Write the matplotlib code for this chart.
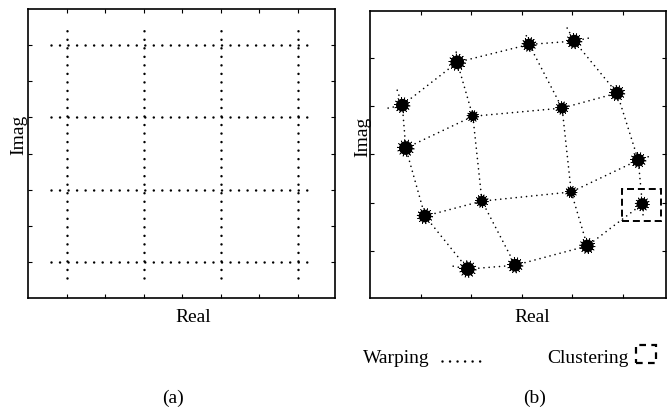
import numpy as np
import matplotlib.pyplot as plt
from matplotlib.patches import Rectangle
from matplotlib.lines import Line2D

plt.rcParams["font.family"] = ["Liberation Serif", "DejaVu Serif"]

# (a) ideal 16-point grid
grid_levels = [-3, -1, 1, 3]
h_extent = [-3.4, 3.4]    # where the dotted horizontal lines stop
v_extent = [-3.45, 3.45]  # where the dotted vertical lines stop
ticks_a = [-3, -2, -1, 0, 1, 2, 3]

# (b) cluster centres after warping, [row][col], top row first
clu_x = [
    [-2.37, -1.28, 0.145, 1.04],
    [-2.30, -0.97, 0.80, 1.89],
    [-1.92, -0.79, 0.98, 2.31],
    [-1.07, -0.13, 1.30, 2.39],
]
clu_y = [
    [1.02, 1.91, 2.28, 2.35],
    [0.13, 0.79, 0.96, 1.27],
    [-1.28, -0.97, -0.78, -0.12],
    [-2.38, -2.30, -1.90, -1.03],
]
# loose ends of the warped lines
row_left = [(-2.65, 0.96), (-2.40, 0.10), (-2.02, -1.30), (-1.36, -2.32)]
row_right = [(1.41, 2.43), (1.98, 1.30), (2.59, -0.02), (2.45, -0.98)]
col_top = [(-2.47, 1.33), (-1.30, 2.12), (0.09, 2.46), (0.90, 2.62)]
col_bottom = [(-1.03, -2.50), (-0.11, -2.42), (1.30, -2.03), (2.41, -1.34)]
# dashed box around one cluster: x0, y0, width, height
cluster_box = (1.99, -1.38, 0.77, 0.66)
ticks_bx = [-2, -1, 0, 1, 2]
ticks_by = [-2, -1, 0, 1, 2]

# blob diameters in pixels
blob_px = [
    [12, 13, 11, 12],
    [13, 9, 10, 12],
    [12, 10, 9, 12],
    [13, 12, 12, 11],
]


def frame(ax):
    for s in ax.spines.values():
        s.set_linewidth(1.2)
    ax.tick_params(direction="in", length=3, width=0.8, top=True, right=True,
                   labelbottom=False, labelleft=False)


fig = plt.figure(figsize=(6.71, 4.10), dpi=100)

# ---- panel (a)
ax = fig.add_axes([28 / 671, 111 / 410, 307 / 671, 289 / 410])
dot_a = dict(color="k", lw=1.8, linestyle=(0, (0.01, 3.4)), dash_capstyle="round")
for g in grid_levels:
    ax.plot(h_extent, [g, g], **dot_a)
    ax.plot([g, g], v_extent, **dot_a)
ax.set_xlim(-4, 3.97)
ax.set_ylim(-4, 4)
ax.set_xticks(ticks_a)
ax.set_yticks(ticks_a)
frame(ax)
ax.text(0.537, -0.0796, "Real", transform=ax.transAxes, ha="center", va="baseline", fontsize=14)
ax.text(-0.003, 0.567, "Imag", transform=ax.transAxes, ha="right", va="center",
        rotation=90, fontsize=14)

# ---- panel (b)
bx = fig.add_axes([370 / 671, 111 / 410, 296 / 671, 287.3 / 410])
dot_b = dict(color="k", lw=1.2, linestyle=(0, (0.01, 3.1)), dash_capstyle="round")
cx = np.array(clu_x)
cy = np.array(clu_y)
for i in range(4):
    xs = [row_left[i][0]] + list(cx[i]) + [row_right[i][0]]
    ys = [row_left[i][1]] + list(cy[i]) + [row_right[i][1]]
    bx.plot(xs, ys, **dot_b)
    xs = [col_top[i][0]] + list(cx[:, i]) + [col_bottom[i][0]]
    ys = [col_top[i][1]] + list(cy[:, i]) + [col_bottom[i][1]]
    bx.plot(xs, ys, **dot_b)

d = np.array(blob_px).ravel() * 0.72
bx.scatter(cx.ravel(), cy.ravel(), s=(d * 1.05) ** 2, c="k", linewidths=0, zorder=3)
bx.scatter(cx.ravel(), cy.ravel(), s=(d * 1.3) ** 2, c="k", marker=(14, 2, 7),
           linewidths=0.5, zorder=3)
bx.add_patch(Rectangle(cluster_box[:2], cluster_box[2], cluster_box[3], fill=False,
                       ec="k", lw=1.4, linestyle=(0, (3.6, 2.0)), zorder=4))
bx.set_xlim(-3.01, 2.86)
bx.set_ylim(-2.98, 2.98)
bx.set_xticks(ticks_bx)
bx.set_yticks(ticks_by)
frame(bx)
bx.text(0.547, -0.081, "Real", transform=bx.transAxes, ha="center", va="baseline", fontsize=14)
bx.text(0.004, 0.564, "Imag", transform=bx.transAxes, ha="right", va="center",
        rotation=90, fontsize=14)

# ---- legend row under (b)
fig.text(363 / 671, 47 / 410, "Warping", ha="left", va="baseline", fontsize=14)
fig.add_artist(Line2D([442 / 671, 487 / 671], [48 / 410, 48 / 410], transform=fig.transFigure,
                      color="k", lw=1.8, linestyle=(0, (0.01, 3.0)), dash_capstyle="round"))
fig.text(547 / 671, 47 / 410, "Clustering", ha="left", va="baseline", fontsize=14)
fig.add_artist(Rectangle((636 / 671, 46 / 410), 20 / 671, 18 / 410, transform=fig.transFigure,
                         fill=False, ec="k", lw=1.6, linestyle=(0, (3.0, 2.4))))

# ---- captions
fig.text(173.5 / 671, 7 / 410, "(a)", ha="center", va="baseline", fontsize=14)
fig.text(535 / 671, 7 / 410, "(b)", ha="center", va="baseline", fontsize=14)

fig.savefig("out.png", dpi=100)
